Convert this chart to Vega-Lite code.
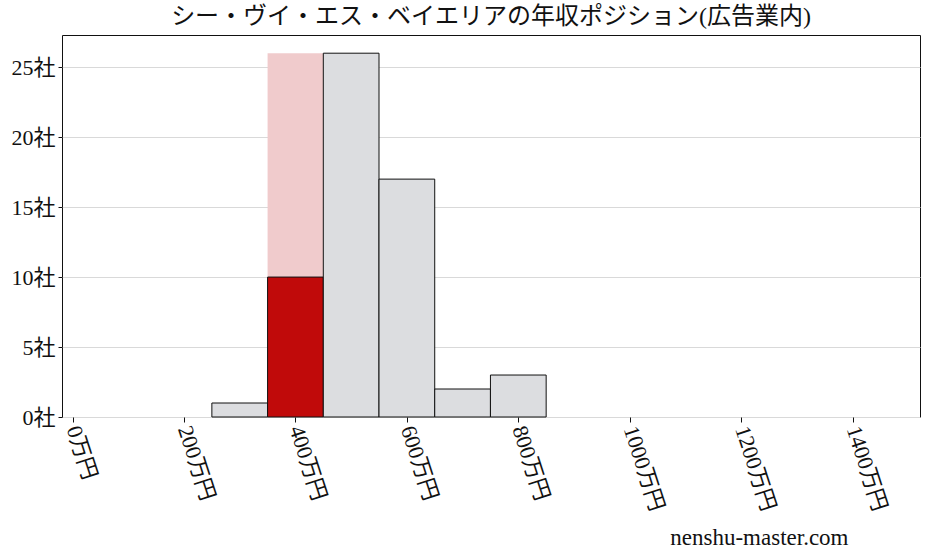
{
  "$schema": "https://vega.github.io/schema/vega-lite/v6.json",
  "autosize": "none",
  "width": 858,
  "height": 382,
  "padding": {"left": 62, "top": 35, "right": 8, "bottom": 140},
  "background": "white",
  "title": {
    "text": "シー・ヴイ・エス・ベイエリアの年収ポジション(広告業内)",
    "font": "Liberation Serif, Noto Sans CJK JP",
    "fontSize": 24,
    "fontWeight": "normal",
    "color": "#111111",
    "anchor": "middle",
    "offset": 6
  },
  "data": {
    "values": [
      {"start": 350, "end": 450, "count": 26, "kind": "range"},
      {"start": 250, "end": 350, "count": 1, "kind": "other"},
      {"start": 350, "end": 450, "count": 10, "kind": "self"},
      {"start": 450, "end": 550, "count": 26, "kind": "other"},
      {"start": 550, "end": 650, "count": 17, "kind": "other"},
      {"start": 650, "end": 750, "count": 2, "kind": "other"},
      {"start": 750, "end": 850, "count": 3, "kind": "other"}
    ]
  },
  "layer": [
    {
      "transform": [{"filter": "datum.kind === 'range'"}],
      "mark": {"type": "rect", "color": "#f0cbcc"},
      "encoding": {
        "x": {"field": "start", "type": "quantitative"},
        "x2": {"field": "end"},
        "y": {"field": "count", "type": "quantitative"},
        "y2": {"datum": 0}
      }
    },
    {
      "transform": [{"filter": "datum.kind !== 'range'"}],
      "mark": {"type": "rect", "stroke": "#111111", "strokeWidth": 1},
      "encoding": {
        "x": {
          "field": "start",
          "type": "quantitative",
          "scale": {"domain": [-19, 1521], "nice": false, "zero": false},
          "axis": {
            "values": [0, 200, 400, 600, 800, 1000, 1200, 1400],
            "labelExpr": "datum.value + '万円'",
            "labelAngle": 72,
            "labelAlign": "left",
            "labelBaseline": "middle",
            "labelFontSize": 22,
            "labelPadding": 4,
            "grid": false,
            "domain": false,
            "tickColor": "#111111",
            "tickSize": 5,
            "title": "nenshu-master.com",
            "titleFontSize": 23,
            "titleFontWeight": "normal",
            "titleAnchor": "end",
            "titleAlign": "right",
            "titleBaseline": "middle",
            "titleX": 786,
            "titleY": 120
          }
        },
        "x2": {"field": "end"},
        "y": {
          "field": "count",
          "type": "quantitative",
          "scale": {"domain": [0, 27.3], "nice": false},
          "axis": {
            "values": [0, 5, 10, 15, 20, 25],
            "labelExpr": "datum.value + '社'",
            "labelFontSize": 22,
            "labelPadding": 3,
            "grid": true,
            "gridColor": "#d9d9d9",
            "domain": false,
            "tickColor": "#111111",
            "tickSize": 4,
            "title": null
          }
        },
        "y2": {"datum": 0},
        "color": {
          "field": "kind",
          "type": "nominal",
          "scale": {"domain": ["other", "self"], "range": ["#dcdde0", "#c00a0a"]},
          "legend": null
        }
      }
    }
  ],
  "config": {
    "font": "Liberation Serif, Noto Sans CJK JP",
    "axis": {"labelColor": "#111111", "titleColor": "#111111", "labelFont": "Liberation Serif, Noto Sans CJK JP", "titleFont": "Liberation Serif, Noto Sans CJK JP"},
    "view": {"stroke": "#111111", "strokeWidth": 1}
  }
}
